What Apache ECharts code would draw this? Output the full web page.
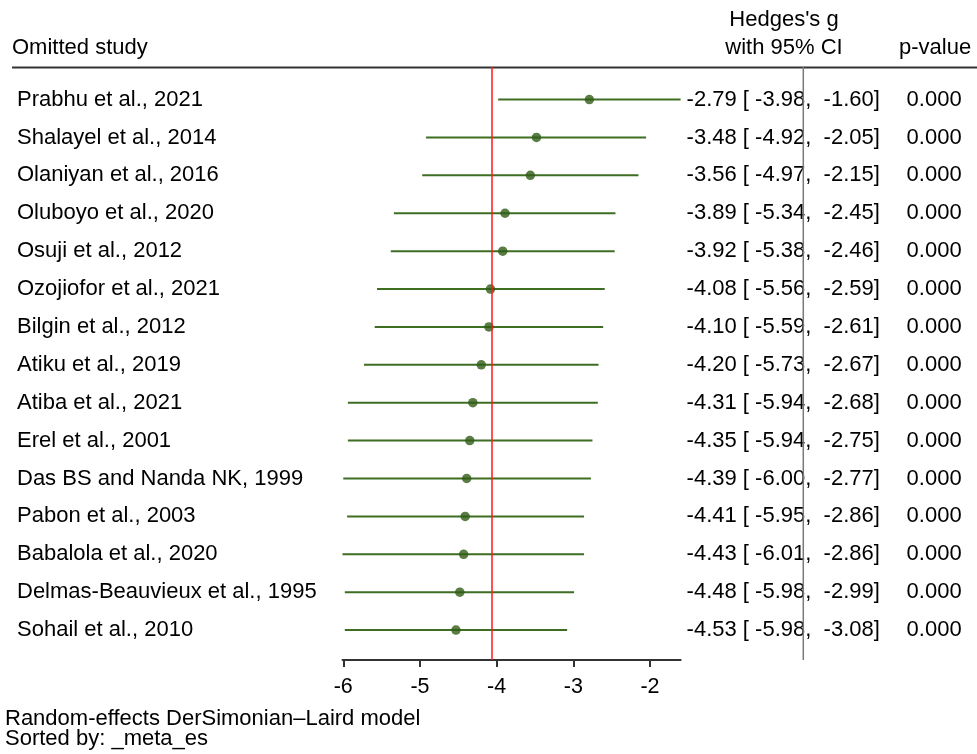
<!DOCTYPE html>
<html><head><meta charset="utf-8">
<script src="https://cdn.jsdelivr.net/npm/echarts@6/dist/echarts.min.js"></script>
<style>html,body{margin:0;padding:0;background:#fff}#c{width:977px;height:754px}</style>
</head><body><div id="c"></div>
<script>
const studies = [
  'Prabhu et al., 2021','Shalayel et al., 2014','Olaniyan et al., 2016','Oluboyo et al., 2020',
  'Osuji et al., 2012','Ozojiofor et al., 2021','Bilgin et al., 2012','Atiku et al., 2019',
  'Atiba et al., 2021','Erel et al., 2001','Das BS and Nanda NK, 1999','Pabon et al., 2003',
  'Babalola et al., 2020','Delmas-Beauvieux et al., 1995','Sohail et al., 2010'
];
const effect = [-2.79,-3.48,-3.56,-3.89,-3.92,-4.08,-4.10,-4.20,-4.31,-4.35,-4.39,-4.41,-4.43,-4.48,-4.53];
const ciLow  = [-3.98,-4.92,-4.97,-5.34,-5.38,-5.56,-5.59,-5.73,-5.94,-5.94,-6.00,-5.95,-6.01,-5.98,-5.98];
const ciHigh = [-1.60,-2.05,-2.15,-2.45,-2.46,-2.59,-2.61,-2.67,-2.68,-2.75,-2.77,-2.86,-2.86,-2.99,-3.08];
const pValues = ['0.000','0.000','0.000','0.000','0.000','0.000','0.000','0.000','0.000','0.000','0.000','0.000','0.000','0.000','0.000'];
const overallEffect = -4.06;
const nullEffect = 0;
const xTicks = [-6,-5,-4,-3,-2];

const FONT = '"Liberation Sans", Arial, sans-serif';
const rows = studies.map((s, i) => i);
const xMin = Math.min(...ciLow);
const xMax = Math.max(...ciHigh);
const pxPerUnit = 76.67;
const gridLeft = 342.5;
const gridTop = 67, gridHeight = 593;
const yMin = -0.86, yMax = 14.79;
const extMax = 0.5;

const ciText = rows.map(i => `${effect[i].toFixed(2)} [ ${ciLow[i].toFixed(2)},  ${ciHigh[i].toFixed(2)}]`);

const hiddenY = {
  type: 'value', min: yMin, max: yMax, inverse: true,
  axisLine: {show: false}, axisTick: {show: false}, splitLine: {show: false}
};
const labelBase = {fontSize: 22, color: '#000', fontFamily: FONT, align: 'left'};

const option = {
  animation: false,
  backgroundColor: '#fff',
  grid: [
    {left: gridLeft, top: gridTop, width: (xMax - xMin) * pxPerUnit, height: gridHeight},
    {left: gridLeft, top: gridTop, width: (extMax - xMin) * pxPerUnit, height: gridHeight}
  ],
  xAxis: [
    {
      gridIndex: 0, type: 'value', min: xMin, max: xMax, position: 'bottom',
      axisLine: {show: true, onZero: false, lineStyle: {color: '#333', width: 2}},
      axisTick: {show: true, customValues: xTicks, length: 7, lineStyle: {color: '#333', width: 2}},
      axisLabel: {customValues: xTicks, fontSize: 21.5, color: '#000', fontFamily: FONT, margin: 16},
      splitLine: {show: false}
    },
    {gridIndex: 1, type: 'value', min: xMin, max: extMax, show: false}
  ],
  yAxis: [
    Object.assign({}, hiddenY, {
      gridIndex: 0, position: 'left',
      axisLabel: Object.assign({}, labelBase, {customValues: rows, margin: gridLeft - 17,
        formatter: v => studies[Math.round(v)]})
    }),
    Object.assign({}, hiddenY, {
      gridIndex: 0, position: 'right',
      axisLabel: Object.assign({}, labelBase, {customValues: rows, margin: 6,
        formatter: v => ciText[Math.round(v)]})
    }),
    Object.assign({}, hiddenY, {
      gridIndex: 0, position: 'right', offset: 220,
      axisLabel: Object.assign({}, labelBase, {customValues: rows, margin: 6,
        formatter: v => pValues[Math.round(v)]})
    }),
    Object.assign({}, hiddenY, {gridIndex: 1, show: false})
  ],
  series: [
    {
      type: 'custom', xAxisIndex: 1, yAxisIndex: 3, z: 1,
      data: [[nullEffect]],
      encode: {x: 0},
      renderItem: (params, api) => {
        const a = api.coord([api.value(0), yMin]);
        const b = api.coord([api.value(0), yMax]);
        return {type: 'line', shape: {x1: a[0], y1: a[1], x2: b[0], y2: b[1]},
          style: {stroke: '#7a7a7a', lineWidth: 1.5}};
      }
    },
    {
      type: 'custom', xAxisIndex: 0, yAxisIndex: 0, z: 3,
      data: rows.map(i => [ciLow[i], ciHigh[i], i]),
      encode: {x: [0, 1], y: 2},
      renderItem: (params, api) => {
        const a = api.coord([api.value(0), api.value(2)]);
        const b = api.coord([api.value(1), api.value(2)]);
        return {type: 'line', shape: {x1: a[0], y1: a[1], x2: b[0], y2: b[1]},
          style: {stroke: '#3d6e22', lineWidth: 2}};
      }
    },
    {
      type: 'scatter', xAxisIndex: 0, yAxisIndex: 0, z: 4,
      data: rows.map(i => [effect[i], i]),
      symbol: 'circle', symbolSize: 9.5,
      itemStyle: {color: '#2f5c17'},
      markLine: {
        silent: true, symbol: 'none', label: {show: false},
        lineStyle: {color: '#ff1a1a', width: 1.5, type: 'solid'},
        data: [{xAxis: overallEffect}]
      }
    }
  ],
  graphic: [
    {type: 'line', shape: {x1: 12, y1: 67.5, x2: 977, y2: 67.5}, style: {stroke: '#333', lineWidth: 2}},
    {type: 'text', x: 12, y: 48, style: {text: 'Omitted study', font: '22px ' + FONT, fill: '#000', align: 'left', verticalAlign: 'middle'}},
    {type: 'text', x: 784, y: 20, style: {text: "Hedges's g", font: '22px ' + FONT, fill: '#000', align: 'center', verticalAlign: 'middle'}},
    {type: 'text', x: 784, y: 48, style: {text: 'with 95% CI', font: '22px ' + FONT, fill: '#000', align: 'center', verticalAlign: 'middle'}},
    {type: 'text', x: 899, y: 48, style: {text: 'p-value', font: '22px ' + FONT, fill: '#000', align: 'left', verticalAlign: 'middle'}},
    {type: 'text', x: 5, y: 719, style: {text: 'Random-effects DerSimonian–Laird model', font: '22px ' + FONT, fill: '#000', align: 'left', verticalAlign: 'middle'}},
    {type: 'text', x: 5, y: 739, style: {text: 'Sorted by: _meta_es', font: '22px ' + FONT, fill: '#000', align: 'left', verticalAlign: 'middle'}}
  ]
};
echarts.init(document.getElementById('c'), null, {renderer: 'canvas'}).setOption(option);
</script>
</body></html>
